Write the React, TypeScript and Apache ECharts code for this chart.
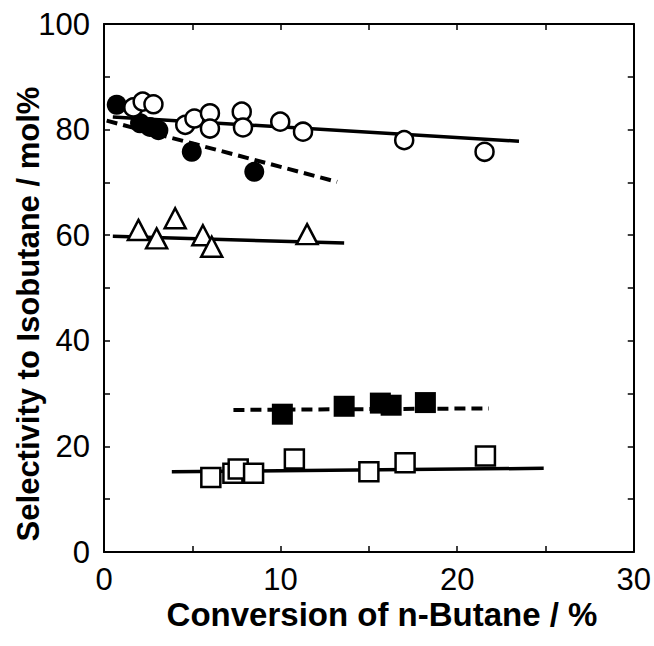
import React, { useEffect, useRef } from "react";
import * as echarts from "echarts";

const xTitle = "Conversion of n-Butane / %";
const yTitle = "Selectivity to Isobutane / mol%";

const openCircleX = [1.66, 2.19, 2.8, 4.6, 5.12, 6.0, 6.0, 7.8, 7.87, 9.98, 11.27, 17.0, 21.55];
const openCircleY = [84.2, 85.3, 84.8, 80.9, 82.1, 83.1, 80.2, 83.4, 80.4, 81.5, 79.6, 78.0, 75.8];

const filledCircleX = [0.72, 2.04, 2.6, 3.08, 4.97, 8.51];
const filledCircleY = [84.7, 81.2, 80.5, 79.9, 75.8, 72.0];

const triangleX = [1.95, 2.98, 4.03, 5.6, 6.1, 11.5];
const triangleY = [61.0, 59.4, 63.2, 60.0, 57.8, 60.2];

const filledSquareX = [10.1, 13.6, 15.65, 16.26, 18.2];
const filledSquareY = [26.1, 27.6, 28.2, 27.8, 28.3];

const openSquareX = [6.05, 7.3, 7.6, 8.47, 10.78, 15.0, 17.05, 21.6];
const openSquareY = [14.1, 14.9, 15.7, 14.9, 17.6, 15.2, 16.9, 18.2];

const openCircleFitX = [0.5, 23.5];
const openCircleFitY = [82.4, 77.8];
const filledCircleFitX = [0.15, 13.2];
const filledCircleFitY = [81.7, 70.1];
const triangleFitX = [0.5, 13.6];
const triangleFitY = [59.8, 58.5];
const filledSquareFitX = [7.33, 21.8];
const filledSquareFitY = [26.9, 27.2];
const openSquareFitX = [3.84, 24.9];
const openSquareFitY = [15.2, 15.85];

const zip = (xs: number[], ys: number[]) => xs.map((x, i) => [x, ys[i]]);

const FONT = "'Liberation Sans', Arial, Helvetica, sans-serif";

export default function App() {
  const ref = useRef<HTMLDivElement>(null);
  useEffect(() => {
    if (!ref.current) return;
    const chart = echarts.init(ref.current, null, { renderer: "svg" });
    const lineSeries = (xs: number[], ys: number[], dashed: boolean) => ({
      type: "line",
      data: zip(xs, ys),
      symbol: "none",
      silent: true,
      z: 1,
      lineStyle: {
        color: "#000",
        width: dashed ? 4 : 3.5,
        type: dashed ? [11, 6] : "solid",
      },
    });
    const scatter = (xs: number[], ys: number[], symbol: string, size: any, filled: boolean) => ({
      type: "scatter",
      data: zip(xs, ys),
      symbol,
      symbolSize: size,
      z: 3,
      itemStyle: {
        color: filled ? "#000" : "#fff",
        borderColor: "#000",
        borderWidth: filled ? 0 : 2.5,
        opacity: 1,
      },
    });
    const axisCommon = {
      axisLine: { show: true, onZero: false, lineStyle: { color: "#000", width: 2 } },
      axisTick: { show: true, inside: true, length: 6, lineStyle: { color: "#000", width: 1.5 } },
      splitLine: { show: false },
    };
    chart.setOption({
      animation: false,
      backgroundColor: "#fff",
      grid: { left: 104, right: 20, top: 24, bottom: 94, containLabel: false },
      graphic: [
        {
          type: "text",
          x: 382,
          y: 614,
          style: {
            text: xTitle,
            fill: "#000",
            font: `bold 33px ${FONT}`,
            textAlign: "center",
            textVerticalAlign: "middle",
          },
        },
        {
          type: "text",
          x: 28,
          y: 314,
          rotation: Math.PI / 2,
          style: {
            text: yTitle,
            fill: "#000",
            font: `bold 31px ${FONT}`,
            textAlign: "center",
            textVerticalAlign: "middle",
          },
        },
      ],
      xAxis: [
        {
          type: "value",
          min: 0,
          max: 30,
          interval: 5,
          position: "bottom",
          ...axisCommon,
          axisLabel: {
            color: "#000",
            fontSize: 31,
            fontFamily: FONT,
            margin: 12,
            formatter: (v: number) => (v % 10 === 0 ? String(v) : ""),
          },
        },
        {
          type: "value",
          min: 0,
          max: 30,
          interval: 5,
          position: "top",
          ...axisCommon,
          axisLabel: { show: false },
        },
      ],
      yAxis: [
        {
          type: "value",
          min: 0,
          max: 100,
          interval: 10,
          position: "left",
          ...axisCommon,
          axisLabel: {
            color: "#000",
            fontSize: 31,
            fontFamily: FONT,
            margin: 14,
            formatter: (v: number) => (v % 20 === 0 ? String(v) : ""),
          },
        },
        {
          type: "value",
          min: 0,
          max: 100,
          interval: 10,
          position: "right",
          ...axisCommon,
          axisLabel: { show: false },
        },
      ],
      series: [
        lineSeries(openCircleFitX, openCircleFitY, false),
        lineSeries(filledCircleFitX, filledCircleFitY, true),
        lineSeries(triangleFitX, triangleFitY, false),
        lineSeries(filledSquareFitX, filledSquareFitY, true),
        lineSeries(openSquareFitX, openSquareFitY, false),
        scatter(filledCircleX, filledCircleY, "circle", 20, true),
        scatter(openCircleX, openCircleY, "circle", 18, false),
        scatter(triangleX, triangleY, "triangle", [21, 20], false),
        scatter(filledSquareX, filledSquareY, "rect", 21, true),
        scatter(openSquareX, openSquareY, "rect", 19, false),
      ],
    });
    return () => chart.dispose();
  }, []);
  return (
    <div
      ref={ref}
      style={{ position: "absolute", left: 0, top: 0, width: 654, height: 646 }}
    />
  );
}
